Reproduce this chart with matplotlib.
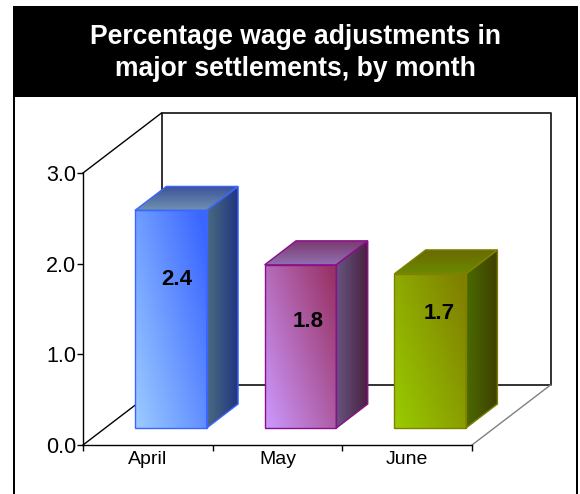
import matplotlib
matplotlib.use("Agg")
import matplotlib.pyplot as plt
import numpy as np
from matplotlib.colors import LinearSegmentedColormap
from matplotlib.patches import Polygon, Rectangle

plt.rcParams["font.family"] = ["Liberation Sans", "DejaVu Sans"]

TITLE = "Percentage wage adjustments in\nmajor settlements, by month"
months = ["April", "May", "June"]
wages = [2.4, 1.8, 1.7]
y_ticks = [0, 1, 2, 3]
y_labels = ["0.0", "1.0", "2.0", "3.0"]

W, H = 580, 494
# front plane of the 3d box, in pixels from top left
LEFT, RIGHT, BOTTOM, TOP = 83, 472, 445, 173
# how far the back wall sits, in data units
DX = 78.5 / ((RIGHT - LEFT) / 3)
DY = 60 / ((BOTTOM - TOP) / 3)
BAR_W = 0.553
BAR_D0, BAR_D1 = 0.283, 0.683
# value labels sit inside the bars
LABEL_X = [0.725, 1.735, 2.745]
LABEL_Y = [1.83, 1.365, 1.455]

# light/dark ends for each bar: front, side, top
FACES = [
    {"front": ["#9ccbff", "#3a66ff"], "side": ["#4a6a80", "#1f3580"], "top": ["#3a5098", "#6e90b0"], "edge": "#3a66ff"},
    {"front": ["#cc99ff", "#993366"], "side": ["#665580", "#4a2040"], "top": ["#7c3a70", "#9070b0"], "edge": "#8a0f8a"},
    {"front": ["#99cc00", "#808000"], "side": ["#4a6a00", "#3f3f00"], "top": ["#6a6a00", "#6a8a00"], "edge": "#808000"},
]


def project(x, y, d):
    return x + d * DX, y + d * DY


def shade(ax, corners, colors, mode):
    cmap = LinearSegmentedColormap.from_list("f", colors)
    n = 64
    u, v = np.meshgrid(np.linspace(0, 1, n), np.linspace(0, 1, n))
    if mode == "diag":
        grad = np.clip(0.6 * u + 0.45 * (1 - v), 0, 1)
    elif mode == "horiz":
        grad = u
    else:
        grad = v
    xs = [c[0] for c in corners]
    ys = [c[1] for c in corners]
    im = ax.imshow(grad, cmap=cmap, vmin=0, vmax=1, origin="upper", aspect="auto",
                   extent=(min(xs), max(xs), min(ys), max(ys)), zorder=3, interpolation="bilinear")
    clip = Polygon(corners, closed=True, transform=ax.transData, fc="none", ec="none")
    ax.add_patch(clip)
    im.set_clip_path(clip)
    im.set_clip_box(ax.figure.bbox)


def draw_bar(ax, x, value, face):
    x0, x1 = x - BAR_W / 2 + 0.006, x + BAR_W / 2 + 0.006
    f = [project(x0, 0, BAR_D0), project(x1, 0, BAR_D0), project(x1, value, BAR_D0), project(x0, value, BAR_D0)]
    s = [project(x1, 0, BAR_D0), project(x1, 0, BAR_D1), project(x1, value, BAR_D1), project(x1, value, BAR_D0)]
    t = [project(x0, value, BAR_D0), project(x1, value, BAR_D0), project(x1, value, BAR_D1), project(x0, value, BAR_D1)]
    shade(ax, f, face["front"], "diag")
    shade(ax, s, face["side"], "horiz")
    shade(ax, t, face["top"], "vert")
    for pts in (f, s, t):
        ax.add_patch(Polygon(pts, closed=True, fc="none", ec=face["edge"], lw=1.0, zorder=4, clip_on=False))


def main():
    fig = plt.figure(figsize=(W / 100, H / 100), dpi=100, facecolor="white")
    ax = fig.add_axes([LEFT / W, 1 - BOTTOM / H, (RIGHT - LEFT) / W, (BOTTOM - TOP) / H])
    ax.set_facecolor("none")
    for side in ("top", "right"):
        ax.spines[side].set_visible(False)
    for side in ("left", "bottom"):
        ax.spines[side].set_linewidth(1.0)

    ax.set_yticks(y_ticks)
    ax.set_yticklabels(y_labels, fontsize=15.5)
    ax.tick_params(axis="y", length=4, width=1, pad=1)
    ax.set_xticks(range(4))
    ax.set_xticklabels([])
    ax.tick_params(axis="x", length=4, width=1, direction="out")
    for i, m in enumerate(months):
        ax.text(i + 0.5, -0.07, m, ha="center", va="top", fontsize=14)

    # back wall and floor
    bl = project(0, 0, 1)
    tl = project(0, 3, 1)
    tr = project(3, 3, 1)
    br = project(3, 0, 1)
    ax.plot([bl[0], tl[0], tr[0], br[0], bl[0]], [bl[1], tl[1], tr[1], br[1], bl[1]],
            color="#222222", lw=1.3, zorder=2, clip_on=False)
    ax.plot([0, bl[0]], [0, bl[1]], color="black", lw=1.0, zorder=2, clip_on=False)
    ax.plot([0, tl[0]], [3, tl[1]], color="black", lw=1.0, zorder=2, clip_on=False)
    ax.plot([3, br[0]], [0, br[1]], color="#808080", lw=1.0, zorder=2, clip_on=False)

    for i, (value, face) in enumerate(zip(wages, FACES)):
        draw_bar(ax, i + 0.5, value, face)

    ax.set_xlim(0, 3)
    ax.set_ylim(0, 3)

    for value, lx, ly in zip(wages, LABEL_X, LABEL_Y):
        ax.text(lx, ly, f"{value:.1f}", ha="center", va="center",
                fontsize=16, fontweight="bold", zorder=6)

    # title band and side rules, the frame has no visible bottom edge
    fig.add_artist(Rectangle((13 / W, 1 - 97 / H), 565 / W, 91 / H, transform=fig.transFigure, fc="black", ec="none"))
    fig.add_artist(Rectangle((13 / W, 0), 2 / W, 1 - 97 / H, transform=fig.transFigure, fc="black", ec="none"))
    fig.add_artist(Rectangle((576 / W, 0), 2 / W, 1 - 97 / H, transform=fig.transFigure, fc="black", ec="none"))
    fig.text(295 / W, 1 - 53 / H, TITLE, color="white", ha="center", va="center",
             fontsize=19.1, fontweight="bold", linespacing=1.28)

    fig.savefig("out.png", dpi=100, facecolor="white")


if __name__ == "__main__":
    main()
